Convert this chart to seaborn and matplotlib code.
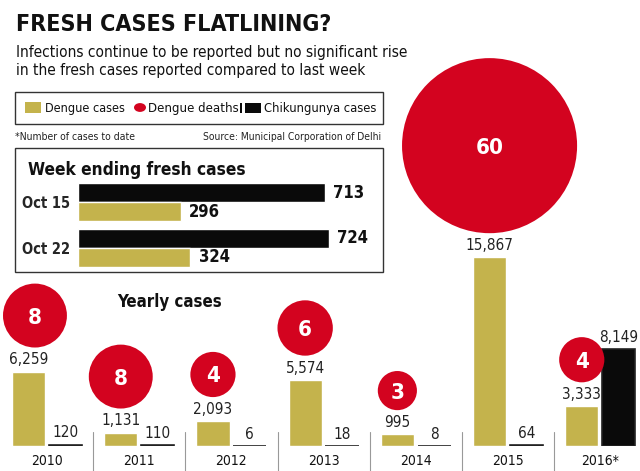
import matplotlib
matplotlib.use("Agg")
import numpy as np
import pandas as pd
import seaborn as sns
import matplotlib.pyplot as plt
from matplotlib import font_manager
from matplotlib.patches import Rectangle, Circle

# yearly totals
years = ["2010", "2011", "2012", "2013", "2014", "2015", "2016*"]
dengue_cases = [6259, 1131, 2093, 5574, 995, 15867, 3333]
chik_cases = [120, 110, 6, 18, 8, 64, 8149]
dengue_deaths = [8, 8, 4, 6, 3, 60, 4]

# week ending fresh cases
weeks = ["Oct 15", "Oct 22"]
week_chik = [713, 724]
week_dengue = [296, 324]

GOLD = "#C4B34C"
RED = "#D3031F"
BLACK = "#0A0A0A"
W, H = 640, 471

sns.set_theme(style="white")
names = {f.name for f in font_manager.fontManager.ttflist}
narrow = "Liberation Sans Narrow" if "Liberation Sans Narrow" in names else "DejaVu Sans"
plt.rcParams["font.family"] = [narrow, "DejaVu Sans"]
plt.rcParams["font.stretch"] = "condensed"

fig = plt.figure(figsize=(6.4, 4.71), dpi=100)


def box(x0, y0, x1, y1):
    return [x0 / W, 1 - y1 / H, (x1 - x0) / W, (y1 - y0) / H]


def ftext(x, y, s, **kw):
    return fig.text(x / W, 1 - y / H, s, va="baseline", **kw)


def fit(t, width):
    fig.canvas.draw()
    w = t.get_window_extent(fig.canvas.get_renderer()).width
    t.set_fontsize(t.get_fontsize() * width / w)
    return t.get_fontsize()


def frame(x0, y0, x1, y1):
    fig.add_artist(Rectangle((x0 / W, 1 - y1 / H), (x1 - x0) / W, (y1 - y0) / H,
                             transform=fig.transFigure, fill=False, ec="#333", lw=1))


# ---- yearly chart ----
ay = fig.add_axes(box(0, 20, 640, 446))
ay.set_facecolor("none")
yr = pd.DataFrame({"year": years * 2,
                   "kind": ["Dengue"] * 7 + ["Chik"] * 7,
                   "cases": dengue_cases + chik_cases})
sns.barplot(data=yr, x="year", y="cases", hue="kind", hue_order=["Dengue", "Chik"],
            palette=[GOLD, BLACK], width=0.8, gap=0.1, errorbar=None, legend=False,
            saturation=1, ax=ay)
px_per_case = 0.0119
ay.set_ylim(0, 426 / px_per_case)
ay.set_xlim(-47 / 92.2, (640 - 47) / 92.2)
for p in ay.containers[1]:
    p.set_edgecolor("#222")
    p.set_linewidth(1.2)
ay.bar_label(ay.containers[0], labels=[f"{v:,}" for v in dengue_cases],
             padding=3, fontsize=11, color="#222")
ay.bar_label(ay.containers[1], labels=[f"{v:,}" for v in chik_cases],
             padding=3, fontsize=11, color="#222")

r = 11.3 * np.sqrt(dengue_deaths)
x_lo = ay.get_xlim()[0]
cx = [max(p.get_x() + p.get_width() / 2, x_lo + (ri + 3) / 92.2)
      for p, ri in zip(ay.containers[0], r)]
cy = [v + (24 + ri) / px_per_case for v, ri in zip(dengue_cases, r)]
ay.scatter(cx, cy, s=(2 * r * 0.72) ** 2, color=RED, linewidths=0, zorder=3, clip_on=False)
for x, y, d in zip(cx, cy, dengue_deaths):
    ay.text(x, y, str(d), ha="center", va="center_baseline", color="white",
            weight="bold", fontsize=16, zorder=4)

ay.set_xticks(range(len(years)))
ay.set_xticklabels(years)
ay.tick_params(axis="x", length=0, pad=6, labelsize=10, labelcolor="#111")
ay.set_yticks([])
ay.set_xlabel("")
ay.set_ylabel("")
sns.despine(ax=ay, left=True, bottom=True)
for i in range(len(years) - 1):
    ay.axvline(i + 0.5, ymin=-25 / 426, ymax=14 / 426, color="#999", lw=0.8, clip_on=False)

# ---- week chart ----
aw = fig.add_axes(box(78, 179.25, 383, 270.75))
aw.set_facecolor("none")
wk = pd.DataFrame({"week": weeks * 2,
                   "kind": ["Chik"] * 2 + ["Dengue"] * 2,
                   "cases": week_chik + week_dengue})
sns.barplot(data=wk, y="week", x="cases", hue="kind", hue_order=["Chik", "Dengue"],
            palette=[BLACK, GOLD], orient="h", width=0.82, errorbar=None, legend=False,
            saturation=1, ax=aw)
aw.set_xlim(0, 305 / 0.3464)
aw.set_ylim(1.5, -0.5)
for c in aw.containers:
    aw.bar_label(c, padding=6, fontsize=12, weight="bold", color="#111")
aw.set_xticks([])
aw.tick_params(axis="y", length=0, pad=6, labelsize=10.5)
for t in aw.get_yticklabels():
    t.set_fontweight("bold")
aw.set_xlabel("")
aw.set_ylabel("")
sns.despine(ax=aw, left=True, bottom=True)

# ---- text and legend ----
fit(ftext(16, 31, "FRESH CASES FLATLINING?", fontsize=20, weight="bold", color="#111"), 316)
s1 = fit(ftext(16, 57, "Infections continue to be reported but no significant rise",
               fontsize=14, color="#111"), 394)
ftext(16, 75, "in the fresh cases reported compared to last week", fontsize=s1, color="#111")

frame(15, 92, 383, 124)
fig.add_artist(Rectangle((25 / W, 1 - 113 / H), 16 / W, 11 / H, transform=fig.transFigure,
                         color=GOLD, lw=0))
fit(ftext(45, 112, "Dengue cases", fontsize=11, color="#111"), 80)
fig.add_artist(Circle((140 / W, 1 - 107.5 / H), 6 / W, transform=fig.transFigure,
                      color=RED, lw=0))
fit(ftext(148, 112, "Dengue deaths", fontsize=11, color="#111"), 90)
fig.add_artist(Rectangle((240 / W, 1 - 113 / H), 2 / W, 10 / H, transform=fig.transFigure,
                         color=BLACK, lw=0))
fig.add_artist(Rectangle((245 / W, 1 - 113 / H), 16 / W, 10 / H, transform=fig.transFigure,
                         color=BLACK, lw=0))
fit(ftext(264, 112, "Chikungunya cases", fontsize=11, color="#111"), 112)

fit(ftext(15, 140, "*Number of cases to date", fontsize=8, color="#222"), 120)
fit(ftext(203, 140, "Source: Municipal Corporation of Delhi", fontsize=8, color="#222"), 178)

frame(15, 148, 383, 272)
fit(ftext(28, 175, "Week ending fresh cases", fontsize=14, weight="bold", color="#111"), 220)
fit(ftext(117, 307, "Yearly cases", fontsize=14, weight="bold", color="#111"), 105)

fig.savefig("out.png", dpi=100)
